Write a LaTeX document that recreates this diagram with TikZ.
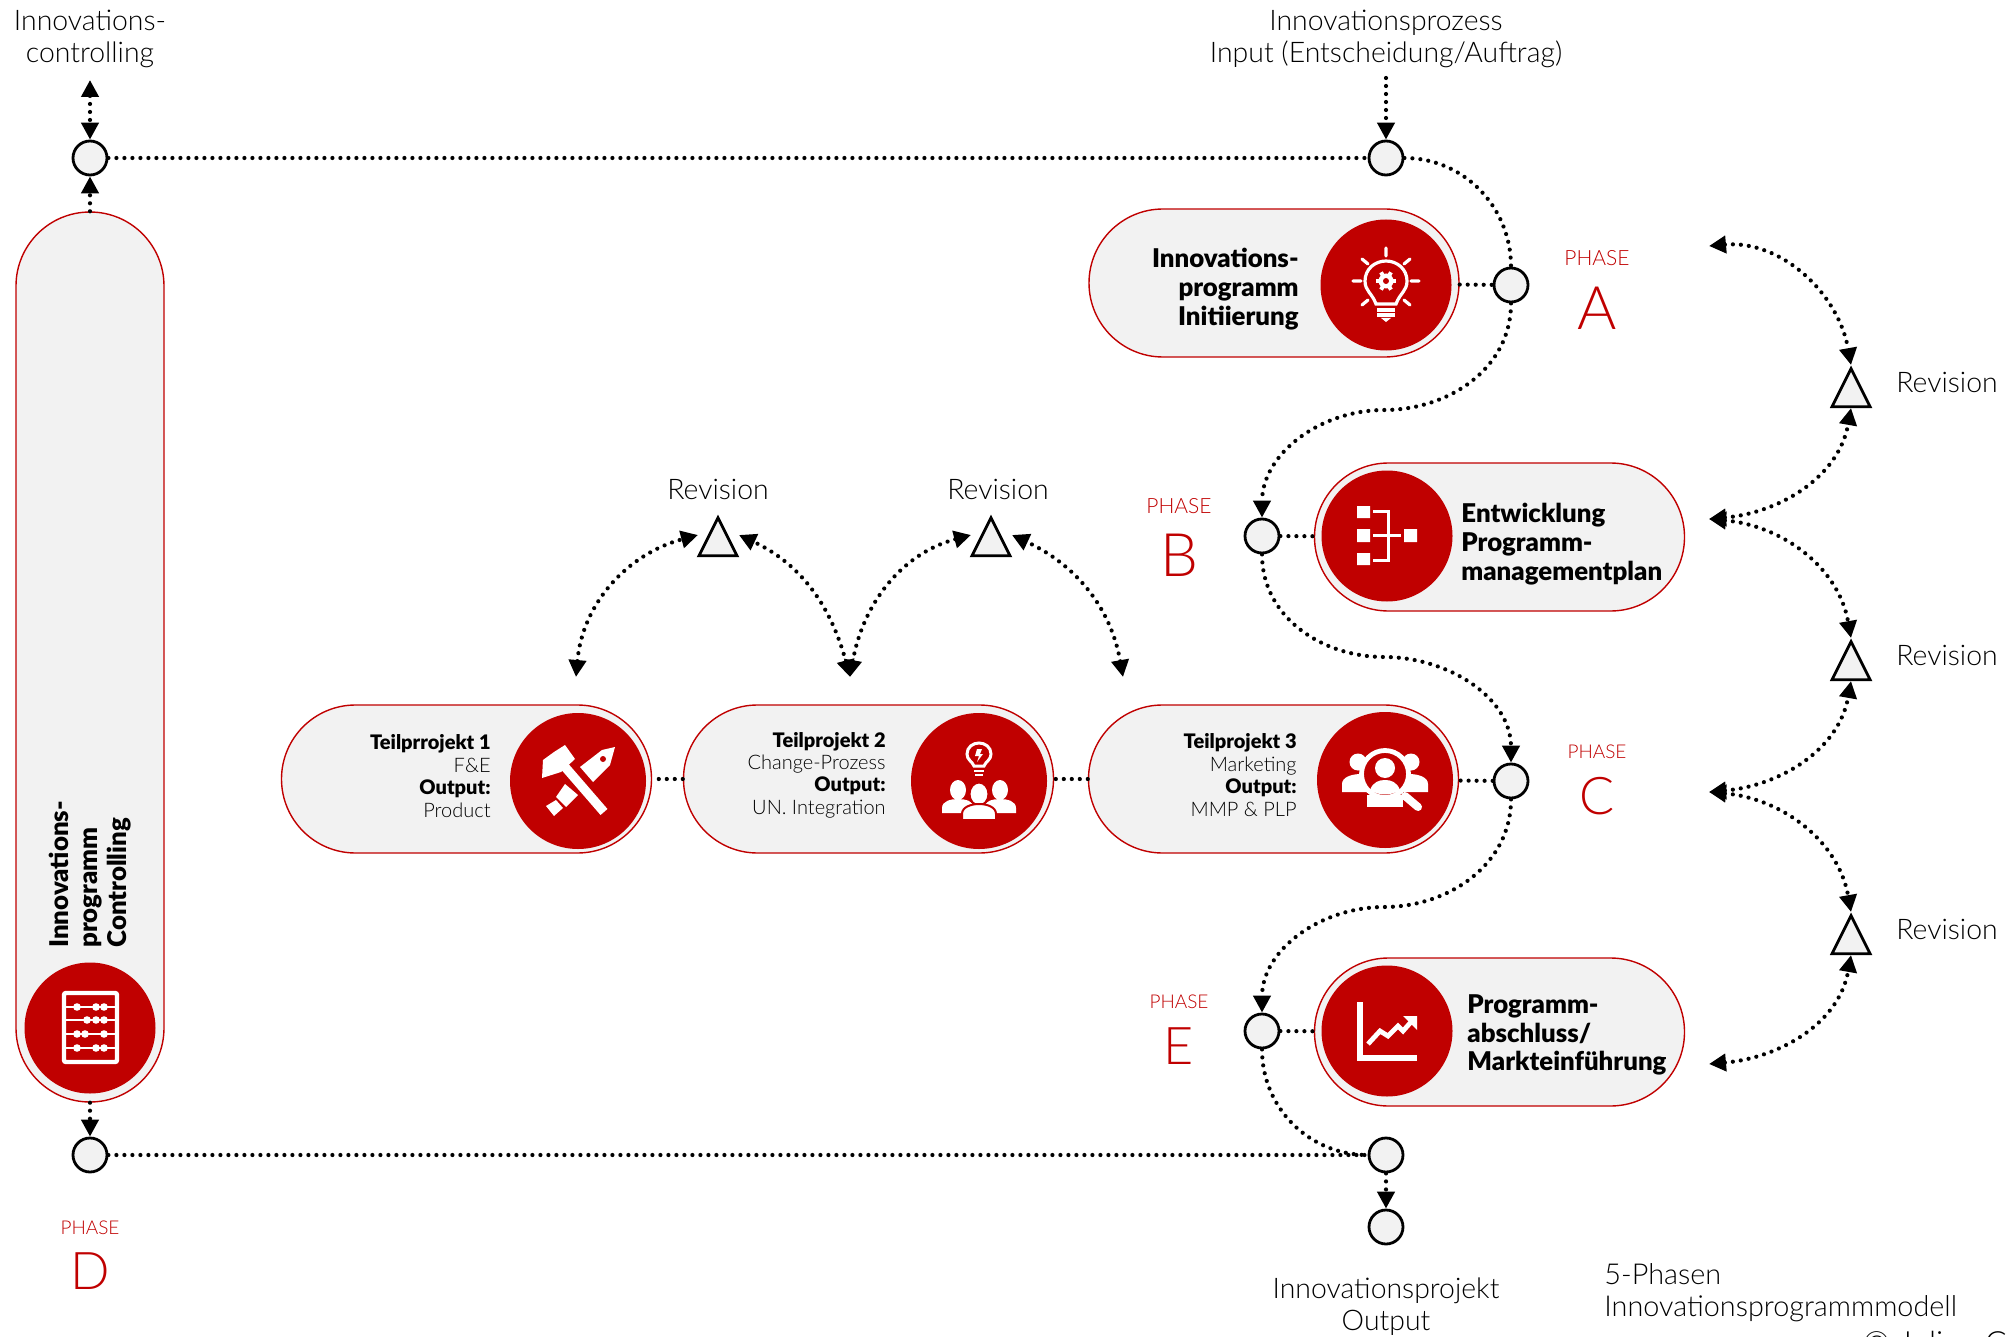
\documentclass[tikz,border=0pt]{standalone}
\usepackage{fontspec}
\setmainfont{Lato}[UprightFont=* Light,BoldFont=* Black]
\usepackage{tikz}
\usetikzlibrary{arrows.meta,shapes.misc,shapes.geometric}
\definecolor{phasered}{HTML}{C00000}
\definecolor{pillgray}{HTML}{F2F2F2}

\tikzset{
    pill/.style={rounded rectangle, draw=phasered, fill=pillgray, line width=0.7pt, minimum width=185pt, minimum height=74pt, inner sep=0pt},
    disc/.style={circle, fill=phasered, minimum size=65.5pt, inner sep=0pt},
    discwide/.style={circle, fill=phasered, minimum size=68pt, inner sep=0pt},
    junction/.style={circle, draw, fill=pillgray, line width=1.4pt, minimum size=17pt, inner sep=0pt},
    revtri/.style={isosceles triangle, isosceles triangle stretches, shape border rotate=90, draw, fill=pillgray, line width=1.4pt, minimum width=19pt, minimum height=19pt, inner sep=0pt, anchor=apex},
    dots/.style={line width=2.1pt, line cap=round, dash pattern=on 0pt off 4pt},
    dotarrow/.style={dots, -{Triangle[length=8.5pt,width=8.5pt]}},
    dotboth/.style={dots, {Triangle[length=8.5pt,width=8.5pt]}-{Triangle[length=8.5pt,width=8.5pt]}},
    label/.style={font=\fontsize{14.2}{16}\selectfont, align=center, inner sep=0pt},
    head/.style={font=\fontsize{12.9}{14.4}\selectfont\bfseries, inner sep=0pt},
    sub/.style={font=\fontsize{10}{11.2}\selectfont, align=right, anchor=east, inner sep=0pt},
    phasetag/.style={text=phasered, font=\fontsize{10.5}{12}\selectfont},
    phasetagsm/.style={text=phasered, font=\fontsize{9.5}{12}\selectfont},
    phasebig/.style={text=phasered, font=\fontsize{30}{32}\selectfont},
    phasesm/.style={text=phasered, font=\fontsize{26}{28}\selectfont},
    % icons
    iconbulb/.pic={
        \draw[white, line width=1.6pt, line cap=round] (0,-37) -- (0,-29) (-33,-4) -- (-25,-4) (33,-4) -- (25,-4)
            (-24,-26) -- (-18,-21) (24,-26) -- (18,-21) (-24,20) -- (-18,15) (24,20) -- (18,15);
        \draw[white, line width=1.6pt] (-10,19) .. controls (-14,8) and (-21,6) .. (-21,-4) .. controls (-21,-16) and (-11,-24) .. (0,-24)
            .. controls (11,-24) and (21,-16) .. (21,-4) .. controls (21,6) and (14,8) .. (10,19) -- cycle;
        \foreach \a in {0,60,...,300} \draw[white, line width=2pt] (0,-4) -- ++(\a:10);
        \fill[white] (0,-4) circle (7.5);
        \fill[phasered] (0,-4) circle (3);
        \draw[white, line width=2pt] (-9,25) -- (9,25) (-9,30) -- (9,30);
        \fill[white] (-5,33) -- (5,33) -- (0,37) -- cycle;
    },
    iconplan/.pic={
        \fill[white] (-30,-30) rectangle (-17,-18) (-30,-7) rectangle (-17,6) (-30,17) rectangle (-17,29) (17,-7) rectangle (30,6);
        \draw[white, line width=1.5pt] (-14,-25) -- (1,-25) -- (1,24) -- (-14,24) (-14,-1) -- (14,-1);
    },
    iconchart/.pic={
        \draw[white, line width=2.6pt] (-27,-29) -- (-27,27) -- (30,27);
        \draw[white, line width=2.4pt] (-19,13) -- (-7,0) -- (1,5) -- (11,-5) -- (16,0) -- (24,-9);
        \fill[white] (30,-15) -- (30,-1) -- (16,-15) -- cycle;
    },
    iconabacus/.pic={
        \draw[white, line width=2.2pt, rounded corners=1pt] (-26,-35) rectangle (27,34);
        \foreach \r/\u/\v/\w in {-21/-13/6/14, -8/-3/6/14, 6/-13/-5/14, 20/-13/6/14}{
            \draw[white, line width=1.2pt] (-26,\r) -- (27,\r);
            \fill[white] (\u,\r) circle (3.8) (\v,\r) circle (3.8) (\w,\r) circle (3.8);
        }
    },
    icontools/.pic={
        \draw[white, line width=4.6pt] (-19,-21) -- (26,31);
        \fill[white] (-24,-29) -- (-13,-36) -- (-3,-22) -- (-17,-9) -- (-36,-3) -- (-35,-21) -- cycle;
        \fill[white] (37,-34) -- (24,-31) -- (2,-14) -- (15,1) -- (32,-16) -- cycle;
        \fill[phasered] (25,-22) circle (3);
        \fill[white] (-13,3) -- (0,14) -- (-12,26) -- (-22,16) -- cycle;
        \fill[white] (-22,19) -- (-15,27) -- (-24,35) -- (-32,25) -- cycle;
    },
    iconteam/.pic={
        \draw[white, line width=1.5pt] (-5,-15) .. controls (-7,-20) and (-12,-21) .. (-12,-27) .. controls (-12,-34) and (-6,-38) .. (0,-38)
            .. controls (6,-38) and (12,-34) .. (12,-27) .. controls (12,-21) and (7,-20) .. (5,-15) -- cycle;
        \fill[white] (-2,-32) -- (3,-32) -- (1,-27) -- (4,-27) -- (-2,-19) -- (0,-25) -- (-4,-25) -- cycle;
        \draw[white, line width=1.2pt] (-5,-10) -- (5,-10) (-4,-6) -- (4,-6);
        \fill[white] (-21,9) ellipse (8 and 10) (21,9) ellipse (8 and 10);
        \fill[white] (-37,32) -- (-37,27) .. controls (-37,20) and (-28,18) .. (-21,18) .. controls (-14,18) and (-5,20) .. (-5,27) -- (-5,32) -- cycle;
        \fill[white] (37,32) -- (37,27) .. controls (37,20) and (28,18) .. (21,18) .. controls (14,18) and (5,20) .. (5,27) -- (5,32) -- cycle;
        \filldraw[white, draw=phasered, line width=1pt] (0,13) ellipse (9.5 and 11.5);
        \filldraw[white, draw=phasered, line width=1pt] (-17,39) -- (-17,33) .. controls (-17,26) and (-8,23) .. (0,23) .. controls (8,23) and (17,26) .. (17,33) -- (17,39) -- cycle;
    },
    iconsearch/.pic={
        \fill[white] (-27,-18) circle (8.5) (26,-18) circle (8.5);
        \fill[white] (-43,12) -- (-43,4) .. controls (-43,-3) and (-33,-6) .. (-24,-6) -- (-10,12) -- cycle;
        \fill[white] (43,12) -- (43,4) .. controls (43,-3) and (33,-6) .. (24,-6) -- (10,12) -- cycle;
        \fill[white] (-18,27) -- (-18,15) -- (18,15) -- (18,27) -- cycle;
        \filldraw[phasered, draw=white, line width=2.4pt] (0,-6) circle (23.5);
        \fill[white] (0,-12) circle (10);
        \fill[white] (-15,10) .. controls (-12,2) and (-6,0) .. (0,0) .. controls (6,0) and (12,2) .. (15,10) .. controls (6,16) and (-6,16) .. (-15,10) -- cycle;
        \draw[white, line width=4pt, line cap=round] (20,16) -- (33,27);
    }
}

\begin{document}
\begin{tikzpicture}[x=0.5pt, y=-0.5pt]
    \useasboundingbox (0,0) rectangle (2013,1337);

    % Phase pills
    \node[pill] (pillA) at (1274,283) {};
    \node[pill] (pillB) at (1499.5,537) {};
    \node[pill] (pillE) at (1499.5,1032) {};
    \node[pill] (pillT1) at (466.5,779) {};
    \node[pill] (pillT2) at (868.5,779) {};
    \node[pill] (pillT3) at (1273.5,779) {};
    \node[pill, rotate=90, minimum width=445pt] (pillD) at (90,657) {};

    % Icon discs
    \node[disc] (discA) at (1386,285) {};
    \node[disc] (discB) at (1387,536) {};
    \node[disc] (discE) at (1387,1031) {};
    \node[disc] (discD) at (90,1028) {};
    \node[discwide] (discT1) at (578,781) {};
    \node[discwide] (discT2) at (979,781) {};
    \node[discwide] (discT3) at (1385,780) {};
    \pic at (discA) {iconbulb};
    \pic at (discB) {iconplan};
    \pic at (discE) {iconchart};
    \pic at (discD) {iconabacus};
    \pic at (discT1) {icontools};
    \pic at (discT2) {iconteam};
    \pic at (discT3) {iconsearch};

    % Pill texts
    \node[head, align=right, anchor=east] (textA) at (1299,289) {Innovations-\\programm\\Initiierung};
    \node[head, align=left, anchor=west] (textB) at (1461,544) {Entwicklung\\Programm-\\managementplan};
    \node[head, align=left, anchor=west] (textE) at (1467,1035) {Programm-\\abschluss/\\Markteinführung};
    \node[head, align=left, anchor=west, rotate=90] (textD) at (90,948) {Innovations-\\programm\\Controlling};
    \node[sub] (textT1) at (491,776) {\textbf{Teilprrojekt 1}\\F\&E\\\textbf{Output:}\\Product};
    \node[sub] (textT2) at (886,775) {\textbf{Teilprojekt 2}\\Change-Prozess\\\textbf{Output:}\\UN. Integration};
    \node[sub] (textT3) at (1297,775) {\textbf{Teilprojekt 3}\\Marketing\\\textbf{Output:}\\MMP \& PLP};

    % Junctions
    \node[junction] (jTL) at (90,158) {};
    \node[junction] (jTR) at (1386,158) {};
    \node[junction] (jA) at (1511,285) {};
    \node[junction] (jB) at (1262,536) {};
    \node[junction] (jC) at (1511,781) {};
    \node[junction] (jE) at (1262,1031) {};
    \node[junction] (jBL) at (90,1155) {};
    \node[junction] (jBR) at (1386,1155) {};
    \node[junction] (jOut) at (1386,1227) {};

    % Revision triangles
    \node[revtri] (triA) at (1851,365) {};
    \node[revtri] (triB) at (1851,638) {};
    \node[revtri] (triC) at (1851,912) {};
    \node[revtri] (triL) at (718,514) {};
    \node[revtri] (triR) at (991,514) {};

    % Free ends
    \coordinate (inTop) at (1386,78);
    \coordinate (ctrlTop) at (90,80);
    \coordinate (midAB) at (1384,410);
    \coordinate (midBC) at (1384,657);
    \coordinate (midCE) at (1384,907);
    \coordinate (revA) at (1709,246);
    \coordinate (revB) at (1709,519);
    \coordinate (revC) at (1709,792);
    \coordinate (revE) at (1709,1064);
    \coordinate (revT1) at (576,677);
    \coordinate (revT2) at (850,677);
    \coordinate (revT3) at (1123,677);
    \coordinate (tipLw) at (698,535);
    \coordinate (tipLe) at (739,535);
    \coordinate (tipRw) at (971,535);
    \coordinate (tipRe) at (1012,535);

    % Main connectors
    \draw[dots] (jTL) -- (jTR);
    \draw[dots] (jBL) -- (jBR);
    \draw[dotarrow] (inTop) -- (jTR);
    \draw[dotboth] (ctrlTop) -- (jTL);
    \draw[dotarrow] (pillD.east) -- (jTL);
    \draw[dotarrow] (pillD.west) -- (jBL);
    \draw[dotarrow] (jBR) -- (jOut);
    \draw[dots] (jTR) to[out=0, in=90] (jA);
    \draw[dotarrow] (jA) to[out=-90, in=0] (midAB) to[out=180, in=90] (jB);
    \draw[dotarrow] (jB) to[out=-90, in=180] (midBC) to[out=0, in=90] (jC);
    \draw[dotarrow] (jC) to[out=-90, in=0] (midCE) to[out=180, in=90] (jE);
    \draw[dots] (jE) to[out=-90, in=180] (jBR);
    \draw[dots] (pillA) -- (jA);
    \draw[dots] (jB) -- (pillB);
    \draw[dots] (jE) -- (pillE);
    \draw[dots] (jC) -- (pillT3);
    \draw[dots] (pillT3) -- (pillT2);
    \draw[dots] (pillT2) -- (pillT1);

    % Revision connectors
    \draw[dotboth] (revA) to[out=5, in=100] (triA.apex);
    \draw[dotboth] (revB) to[out=5, in=-100] (triA.south);
    \draw[dotboth] (revB) to[out=-5, in=100] (triB.apex);
    \draw[dotboth] (revC) to[out=5, in=-100] (triB.south);
    \draw[dotboth] (revC) to[out=-5, in=100] (triC.apex);
    \draw[dotboth] (revE) to[out=5, in=-100] (triC.south);
    \draw[dotboth] (revT1) to[out=85, in=195] (tipLw);
    \draw[dotboth] (revT2) to[out=105, in=-25] (tipLe);
    \draw[dotboth] (revT2) to[out=80, in=195] (tipRw);
    \draw[dotboth] (revT3) to[out=100, in=-25] (tipRe);

    % Labels
    \node[label] (lblControl) at (90,39) {Innovations-\\controlling};
    \node[label] (lblInput) at (1386,39) {Innovationsprozess\\Input (Entscheidung/Auftrag)};
    \node[label] (lblOutput) at (1386,1307) {Innovationsprojekt\\Output};
    \node[label] (lblRevL) at (718,489) {Revision};
    \node[label] (lblRevR) at (998,489) {Revision};
    \node[label] (lblRevA) at (1947,382) {Revision};
    \node[label] (lblRevB) at (1947,655) {Revision};
    \node[label] (lblRevC) at (1947,929) {Revision};
    \node[label, align=left, anchor=west, font=\fontsize{14.4}{16}\selectfont] (lblModel) at (1604,1293) {5-Phasen\\Innovationsprogrammmodell};
    \node[anchor=north west, font=\fontsize{16}{18}\selectfont] (lblCopy) at (1856,1324) {© Julian C};

    % Phase letters
    \node[phasetag] (tagA) at (1597,258) {PHASE};
    \node[phasebig] (letterA) at (1597,308) {A};
    \node[phasetag] (tagB) at (1179,506) {PHASE};
    \node[phasebig] (letterB) at (1179,555) {B};
    \node[phasetagsm] (tagC) at (1597,752) {PHASE};
    \node[phasesm] (letterC) at (1597,796) {C};
    \node[phasetagsm] (tagD) at (90,1228) {PHASE};
    \node[phasesm] (letterD) at (90,1271) {D};
    \node[phasetagsm] (tagE) at (1179,1002) {PHASE};
    \node[phasesm] (letterE) at (1179,1046) {E};
\end{tikzpicture}
\end{document}
